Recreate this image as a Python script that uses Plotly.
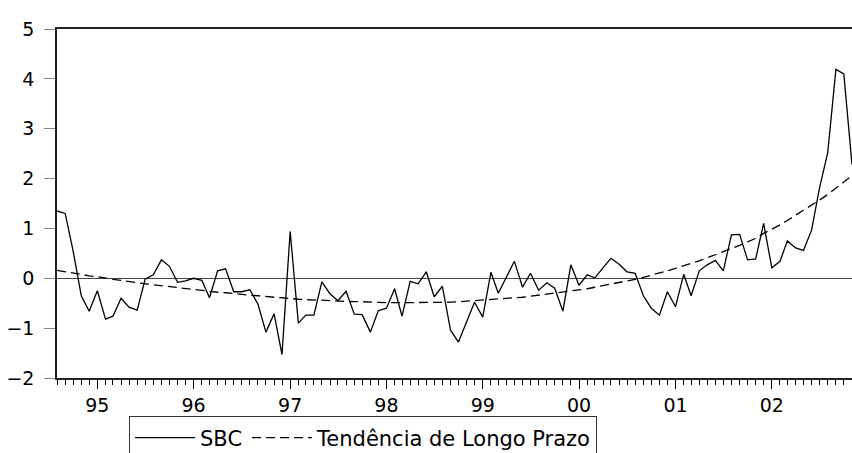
import pandas as pd
import plotly.graph_objects as go

dates = pd.date_range("1994-08-01", periods=100, freq="MS")

sbc = [1.35, 1.30, 0.55, -0.35, -0.66, -0.25, -0.82, -0.76, -0.40, -0.58,
       -0.64, -0.02, 0.07, 0.37, 0.24, -0.08, -0.05, 0.00, -0.04, -0.39,
       0.15, 0.19, -0.27, -0.27, -0.23, -0.52, -1.08, -0.71, -1.53, 0.94,
       -0.90, -0.74, -0.74, -0.07, -0.31, -0.45, -0.26, -0.72, -0.73, -1.08,
       -0.65, -0.60, -0.21, -0.76, -0.06, -0.11, 0.13, -0.37, -0.16, -1.04,
       -1.28, -0.89, -0.48, -0.78, 0.12, -0.30, 0.03, 0.34, -0.18, 0.10,
       -0.24, -0.09, -0.20, -0.66, 0.27, -0.14, 0.07, 0.01, 0.21, 0.40,
       0.28, 0.13, 0.10, -0.35, -0.60, -0.74, -0.27, -0.57, 0.08, -0.35,
       0.15, 0.27, 0.36, 0.15, 0.87, 0.88, 0.37, 0.39, 1.10, 0.21,
       0.34, 0.75, 0.61, 0.56, 0.97, 1.82, 2.52, 4.19, 4.10, 2.28]

trend = [0.16, 0.13, 0.10, 0.08, 0.05, 0.03, 0.00, -0.02, -0.04, -0.07,
         -0.09, -0.11, -0.13, -0.15, -0.17, -0.19, -0.21, -0.23, -0.25, -0.26,
         -0.28, -0.29, -0.31, -0.32, -0.34, -0.35, -0.37, -0.38, -0.39, -0.41,
         -0.42, -0.43, -0.43, -0.44, -0.45, -0.46, -0.46, -0.47, -0.47, -0.48,
         -0.48, -0.49, -0.49, -0.49, -0.49, -0.49, -0.49, -0.49, -0.48, -0.48,
         -0.47, -0.46, -0.45, -0.44, -0.43, -0.42, -0.41, -0.39, -0.38, -0.36,
         -0.34, -0.32, -0.30, -0.28, -0.26, -0.24, -0.21, -0.18, -0.15, -0.12,
         -0.09, -0.06, -0.02, 0.02, 0.06, 0.10, 0.15, 0.20, 0.25, 0.30,
         0.35, 0.41, 0.47, 0.53, 0.59, 0.66, 0.73, 0.80, 0.90, 0.98,
         1.07, 1.16, 1.26, 1.36, 1.46, 1.57, 1.68, 1.80, 1.93, 2.06]

series_names = ["SBC", "Tendência de Longo Prazo"]
y_ticks = [-2, -1, 0, 1, 2, 3, 4, 5]

FONT = "DejaVu Sans, Arial, sans-serif"

fig = go.Figure()
fig.add_trace(go.Scatter(x=dates, y=sbc, mode="lines", name=series_names[0],
                         line=dict(color="black", width=1.3)))
fig.add_trace(go.Scatter(x=dates, y=trend, mode="lines", name=series_names[1],
                         line=dict(color="black", width=1.3, dash="9px,5px")))

fig.update_layout(
    width=852, height=453,
    margin=dict(l=57, r=0, t=29, b=75, autoexpand=False),
    paper_bgcolor="white", plot_bgcolor="white",
    font=dict(family=FONT, size=19, color="black"),
    showlegend=True,
    legend=dict(orientation="h", x=0.0906, y=-0.110, xanchor="left", yanchor="top",
                bordercolor="#333", borderwidth=1, bgcolor="white",
                font=dict(family=FONT, size=21, color="black"),
                itemwidth=60, tracegroupgap=0),
)

fig.update_xaxes(
    type="date",
    range=[dates[0], dates[-1]],
    tick0="1995-01-01", dtick="M12", tickformat="%y",
    ticks="outside", ticklen=9, tickcolor="black", tickwidth=1,
    minor=dict(dtick="M1", ticks="outside", ticklen=5, tickcolor="black", tickwidth=1, showgrid=False),
    showline=True, linecolor="#222", linewidth=1.5, mirror=True,
    showgrid=False, zeroline=False,
    tickfont=dict(family=FONT, size=19, color="black"),
)
fig.update_yaxes(
    range=[-2, 5], tickvals=y_ticks,
    ticks="outside", ticklen=11, tickcolor="#888", tickwidth=1,
    ticklabelstandoff=6,
    showline=True, linecolor="#222", linewidth=1.5, mirror=False,
    showgrid=False,
    zeroline=True, zerolinecolor="#444", zerolinewidth=1,
    tickfont=dict(family=FONT, size=19, color="black"),
)

fig.write_html("out.html")
